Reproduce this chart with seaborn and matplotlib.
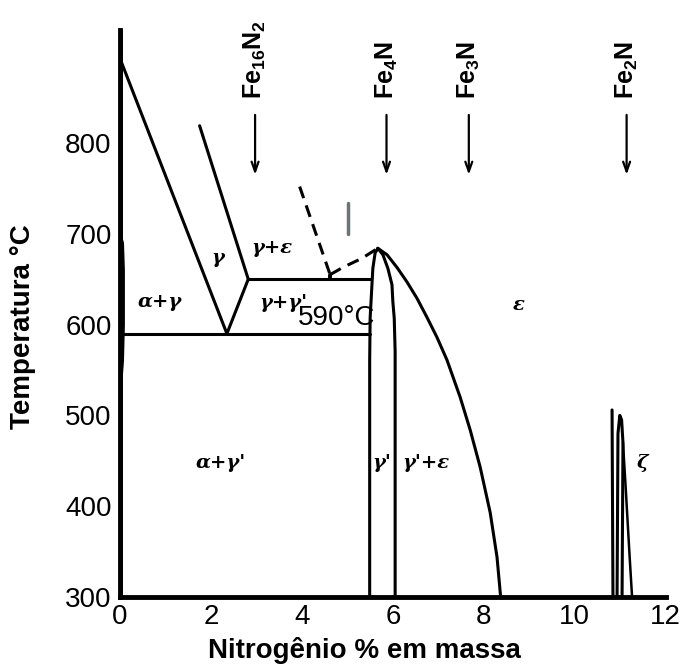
import matplotlib
matplotlib.use("Agg")
import matplotlib.pyplot as plt
import seaborn as sns
import pandas as pd

# ---- data (wt.% N, temperature °C) ----
axis_left_x = [0.0, 0.0]
axis_left_t = [300, 925]

alpha_x = [0.0, 0.06, 0.08, 0.08, 0.06, 0.0]
alpha_t = [520, 560, 600, 660, 690, 700]

gamma_left_x = [0.0, 2.35]
gamma_left_t = [893, 590]

gamma_eps_x = [1.75, 2.82]
gamma_eps_t = [819, 650]

gamma_gp_x = [2.35, 2.82]
gamma_gp_t = [590, 650]

iso590_x = [0.05, 5.49]
iso590_t = [590, 590]

iso650_x = [2.82, 5.50]
iso650_t = [650, 650]

dash1_x = [3.95, 4.62]
dash1_t = [752, 655]

dash2_x = [4.62, 4.9, 5.32, 5.54, 5.67]
dash2_t = [655, 663, 673, 680, 684]

stub_x = [4.62, 4.62]
stub_t = [655, 650]

gp_left_x = [5.49, 5.49, 5.50, 5.54, 5.56, 5.61, 5.67]
gp_left_t = [300, 560, 607, 644, 662, 679, 684]

gp_right_x = [5.67, 5.78, 5.89, 5.98, 6.00, 6.03, 6.05, 6.05]
gp_right_t = [684, 677, 662, 644, 625, 607, 570, 300]

eps_x = [5.67, 5.87, 6.09, 6.31, 6.53, 6.75, 6.97, 7.19, 7.48, 7.70, 7.92, 8.14, 8.29, 8.37]
eps_t = [684, 677, 663, 647, 629, 608, 586, 561, 520, 484, 443, 393, 344, 300]

zeta1_x = [10.82, 10.84]
zeta1_t = [506, 300]

zeta2_x = [10.93, 10.95, 10.99, 11.03, 11.06, 11.04]
zeta2_t = [300, 480, 500, 495, 470, 300]

zeta3_x = [11.06, 11.12, 11.2, 11.26]
zeta3_t = [470, 420, 350, 300]

mark_x = [5.02, 5.02]
mark_t = [700, 734]

compound_names = ["Fe$_{16}$N$_2$", "Fe$_4$N", "Fe$_3$N", "Fe$_2$N"]
compound_x = [2.97, 5.86, 7.67, 11.14]

phase_labels = ["α+γ", "γ", "γ+ε", "γ+γ'", "ε", "α+γ'", "γ'", "γ'+ε", "ζ"]
phase_x = [0.88, 2.16, 3.35, 3.6, 8.77, 2.22, 5.76, 6.72, 11.5]
phase_t = [625, 673, 684, 624, 622, 448, 448, 448, 448]

xticks = [0, 2, 4, 6, 8, 10, 12]
yticks = [300, 400, 500, 600, 700, 800]

# ---- figure ----
sns.set_style("white")
plt.rcParams["font.family"] = ["Liberation Sans", "DejaVu Sans"]
plt.rcParams["mathtext.default"] = "regular"
plt.rcParams["text.color"] = "black"
plt.rcParams["axes.labelcolor"] = "black"
plt.rcParams["xtick.color"] = "black"
plt.rcParams["ytick.color"] = "black"

fig = plt.figure(figsize=(6.8, 6.66), dpi=100)
ax = fig.add_axes([0.1765, 0.1036, 0.979 - 0.1765, 0.9557 - 0.1036])

def draw(xs, ts, lw=2.2, ls="-", color="black"):
    df = pd.DataFrame({"x": xs, "t": ts})
    sns.lineplot(data=df, x="x", y="t", ax=ax, sort=False, estimator=None,
                 color=color, lw=lw, linestyle=ls, legend=False)

draw(axis_left_x, axis_left_t, lw=3.5)
draw(alpha_x, alpha_t, lw=1.8)
draw(gamma_left_x, gamma_left_t)
draw(gamma_eps_x, gamma_eps_t)
draw(gamma_gp_x, gamma_gp_t)
draw(iso590_x, iso590_t)
draw(iso650_x, iso650_t)
draw(dash1_x, dash1_t, ls=(0, (4, 2.5)))
draw(dash2_x, dash2_t, ls=(0, (4, 2.5)))
draw(stub_x, stub_t, lw=2.8)
draw(gp_left_x, gp_left_t)
draw(gp_right_x, gp_right_t)
draw(eps_x, eps_t)
draw(zeta1_x, zeta1_t)
draw(zeta2_x, zeta2_t)
draw(zeta3_x, zeta3_t, lw=1.8)
draw(mark_x, mark_t, lw=2.5, color="#6a7676")

ax.set_xlim(0, 12)
ax.set_ylim(300, 925)
ax.set_xticks(xticks)
ax.set_yticks(yticks)
ax.set_xticklabels([str(v) for v in xticks])
ax.set_yticklabels([str(v) for v in yticks])
ax.tick_params(axis="both", direction="in", labelsize=20, width=2, colors="black")
ax.tick_params(axis="x", length=15, pad=5)
ax.tick_params(axis="y", length=11, pad=6)
for tk, L in zip(ax.yaxis.get_major_ticks(), [0, 6, 13, 5, 11, 14]):
    tk.tick1line.set_markersize(L)

for s in ["top", "right"]:
    ax.spines[s].set_visible(False)
ax.spines["bottom"].set_linewidth(3.5)
ax.spines["left"].set_linewidth(3.5)
ax.spines["bottom"].set_color("black")
ax.spines["left"].set_color("black")
ax.set_xlabel("")
ax.set_ylabel("")

fig.text(364 / 680, 1 - 651 / 666, "Nitrogênio % em massa", ha="center", va="center",
         fontsize=20, fontweight="bold", color="black")
fig.text(23 / 680, 1 - 327 / 666, "Temperatura °C", ha="center", va="center",
         fontsize=20, fontweight="bold", rotation=90, color="black")

for name, cx in zip(compound_names, compound_x):
    ax.text(cx, 849, name, rotation=90, ha="center", va="bottom", fontsize=18,
            fontweight="bold", color="black", clip_on=False)
    ax.annotate("", xy=(cx, 762), xytext=(cx, 834),
                arrowprops=dict(arrowstyle="->,head_length=0.7,head_width=0.25",
                                color="black", lw=1.6))

for lab, px, pt in zip(phase_labels, phase_x, phase_t):
    ax.text(px, pt, lab, ha="center", va="center", fontsize=14, style="italic",
            fontweight="bold", family="DejaVu Serif", color="black")

ax.text(3.9, 607, "590°C", ha="left", va="center", fontsize=20, color="black")

fig.savefig("out.png", dpi=100)
